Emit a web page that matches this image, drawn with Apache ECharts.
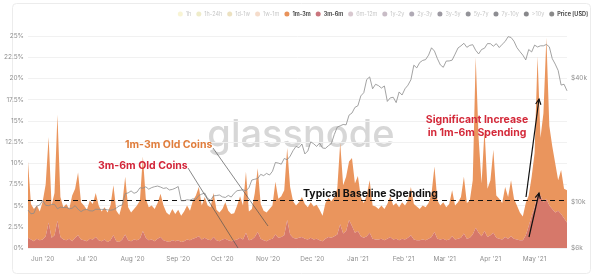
<!DOCTYPE html>
<html><head><meta charset="utf-8">
<script src="https://cdn.jsdelivr.net/npm/echarts@6/dist/echarts.min.js"></script>
<style>html,body{margin:0;padding:0;background:#fff}#c{width:600px;height:277px}</style>
</head><body><div id="c"></div>
<script>
// ---- data (every 2 days from 2020-05-22) ----
const startYMD = [2020, 4, 22];
const stepDays = 2;
const band1m3m = [
9.0,4.2,3.8,3.9,3.4,4.5,6.1,10.1,3.8,5.0,12.5,4.7,3.8,4.3,3.5,5.4,5.8,7.4,4.4,4.1,
3.7,4.5,4.2,5.2,4.1,3.5,3.8,3.5,4.1,5.9,3.6,3.2,4.2,6.8,3.9,3.4,3.6,4.1,4.5,8.8,
4.6,3.9,4.0,3.8,4.2,5.1,4.1,3.4,3.2,3.7,3.2,3.6,3.1,3.5,4.0,3.5,4.5,5.0,5.8,4.0,
4.8,4.0,3.9,5.2,3.6,3.4,3.6,4.3,3.5,3.2,3.2,4.0,4.9,4.0,7.2,3.4,3.6,5.2,7.5,4.1,
3.5,3.4,3.6,3.9,6.2,4.6,4.8,5.3,8.5,5.6,4.3,3.9,4.2,4.7,4.1,3.8,4.2,3.9,4.0,3.6,
3.0,4.2,4.6,4.3,4.6,5.4,9.6,5.7,6.4,6.9,8.0,5.8,6.5,4.6,4.1,4.8,6.2,3.9,3.9,3.6,
3.9,3.7,4.1,4.8,4.0,4.2,3.9,4.3,4.0,4.4,5.7,4.2,4.0,3.7,4.0,3.9,4.2,5.1,7.7,4.5,
4.0,4.3,3.9,4.2,5.4,4.0,4.3,4.8,6.7,4.2,4.4,6.4,20.1,11.1,6.2,12.0,5.7,6.5,9.8,5.0,
4.7,4.3,5.9,4.9,6.6,4.7,4.0,3.3,2.8,3.8,3.6,4.6,6.4,16.1,6.8,10.5,19.0,9.4,7.4,5.8,
3.6,5.2,3.5,3.8
];
const band3m6m = [
1.2,1.0,0.8,1.1,0.9,1.0,1.4,3.0,1.2,1.5,3.2,1.3,1.0,0.9,1.1,0.8,1.2,1.5,1.0,0.9,
0.8,1.1,1.0,1.3,0.9,0.8,1.0,0.7,0.9,1.5,0.8,0.7,1.0,1.6,0.9,0.8,1.0,0.9,1.1,2.0,
1.2,0.9,1.0,0.8,1.1,1.3,0.9,0.8,0.7,0.9,0.8,0.9,0.7,0.8,1.0,0.9,1.1,1.2,1.4,1.0,
1.2,1.0,0.9,1.3,0.9,0.8,1.0,1.1,0.9,0.8,0.9,1.0,1.2,1.0,1.8,0.9,1.0,1.3,1.9,1.1,
0.9,0.8,1.0,1.1,1.6,1.2,1.3,1.5,3.3,1.6,1.2,1.1,1.2,1.3,1.1,1.0,1.2,1.0,1.1,0.9,
0.8,1.1,1.3,1.2,1.4,1.6,2.8,1.7,2.0,3.3,2.6,1.8,2.0,1.4,1.2,1.4,1.8,1.1,1.0,1.0,
1.1,0.9,1.1,1.3,1.0,1.1,0.9,1.1,1.0,1.2,1.5,1.0,0.9,0.9,1.0,0.9,1.1,1.3,1.9,1.1,
1.0,1.1,0.9,1.0,1.4,1.0,1.1,1.2,1.7,1.1,1.2,1.6,2.4,1.8,1.4,2.0,1.3,1.5,1.8,1.2,
1.1,1.0,1.3,1.1,1.4,1.1,1.0,0.9,0.9,1.5,2.6,3.8,4.8,6.5,6.2,5.4,5.8,5.0,4.6,4.2,
4.4,4.0,3.5,3.0
];
const priceUSD = [
9170,8790,8840,9580,9700,10200,9660,9630,9750,9770,9300,9470,9430,9450,9300,9360,9630,9250,9010,9190,
9230,9090,9070,9250,9240,9230,9240,9190,9150,9200,9380,9600,9700,11000,11100,11350,11050,11200,11750,11700,
11880,11570,11780,11900,11980,11850,11670,11750,11470,11540,11700,11920,10170,10170,10280,10240,10390,10330,10780,10950,
11080,10420,10240,10740,10780,10840,10620,10550,10790,10600,11060,11380,11430,11500,11360,11750,12820,12930,13030,13650,
13460,13800,13550,14130,15590,15480,15300,16300,16070,16720,17800,18660,18400,19160,17150,17730,19630,19200,18650,19360,
18320,18250,18800,19270,21310,23140,23470,23830,23730,26440,27080,28840,29370,32780,33990,39370,40520,35510,37330,36770,
35790,36630,30830,32080,32290,30430,34260,33110,35510,36950,39270,46200,44840,47600,48720,49170,51680,56100,54090,49710,
46340,45140,48380,48440,48880,52250,56000,57330,59000,56400,57640,58080,54530,52390,55050,55840,58800,58730,57100,58760,
56250,58340,60200,63500,62980,60360,56190,53800,51700,49000,55030,53560,57830,56620,57350,57360,58240,56700,49700,46760,
43540,37000,37340,34700
];
const tickDates = ['2020-06-01','2020-07-01','2020-08-01','2020-09-01','2020-10-01','2020-11-01','2020-12-01','2021-01-01','2021-02-01','2021-03-01','2021-04-01','2021-05-01'];
const tickLabels = ["Jun '20","Jul '20","Aug '20","Sep '20","Oct '20","Nov '20","Dec '20","Jan '21","Feb '21","Mar '21","Apr '21","May '21"];
const priceTicks = [6000, 10000, 40000];
const priceTickLabels = ['$6k', '$10k', '$40k'];
const baselinePct = 5.6;
const legendNames = ['1h','1h-24h','1d-1w','1w-1m','1m-3m','3m-6m','6m-12m','1y-2y','2y-3y','3y-5y','5y-7y','7y-10y','>10y','Price [USD]'];
const legendColors = ['#f3ebb0','#e2dc9c','#dcc98c','#ecc0a0','#e8925a','#c9747c','#b89aa8','#9a8598','#6f6478','#4a4654','#3a3a44','#2f2f38','#26262c','#8a8a8a'];
const legendActive = ['1m-3m','3m-6m','Price [USD]'];

// ---- build ----
const DAY = 86400000;
const t0 = Date.UTC(startYMD[0], startYMD[1], startYMD[2]);
const xs = band1m3m.map((_, i) => t0 + i * stepDays * DAY);
const pair = arr => arr.map((v, i) => [xs[i], v]);
const tickTs = tickDates.map(s => { const p = s.split('-'); return Date.UTC(+p[0], +p[1]-1, +p[2]); });

function arrow(x1, y1, x2, y2) {
  const a = Math.atan2(y2 - y1, x2 - x1), L = 6, w = 0.45;
  const p1 = [x2 - L * Math.cos(a - w), y2 - L * Math.sin(a - w)];
  const p2 = [x2 - L * Math.cos(a + w), y2 - L * Math.sin(a + w)];
  return [
    { type: 'line', z: 100, shape: { x1, y1, x2, y2 }, style: { stroke: '#111', lineWidth: 1.2 } },
    { type: 'polyline', z: 100, shape: { points: [p1, [x2, y2], p2] }, style: { stroke: '#111', lineWidth: 1.2, fill: null } }
  ];
}

const chart = echarts.init(document.getElementById('c'), null, { renderer: 'canvas' });
const series = [];
legendNames.forEach((n, k) => {
  if (n === '1m-3m' || n === '3m-6m' || n === 'Price [USD]') return;
  series.push({ name: n, type: 'line', data: [], color: legendColors[k], showSymbol: false });
});
series.push({
  name: '3m-6m', type: 'line', stack: 'bands', data: pair(band3m6m), showSymbol: false, z: 3,
  color: '#d6786a', lineStyle: { width: 0 }, areaStyle: { color: '#d6786a', opacity: 1 }
});
series.push({
  name: '1m-3m', type: 'line', stack: 'bands', data: pair(band1m3m), showSymbol: false, z: 2,
  color: '#ea955d', lineStyle: { width: 0 }, areaStyle: { color: '#ea955d', opacity: 1 }
});
series.push({
  name: 'baseline', type: 'line', data: [], z: 4,
  markLine: { silent: true, symbol: ['none', 'none'], label: { show: false },
    lineStyle: { color: '#111', width: 1.1, type: [5, 4] }, data: [{ yAxis: baselinePct }] }
});
series.push({
  name: 'Price [USD]', type: 'line', yAxisIndex: 1, data: pair(priceUSD), showSymbol: false, z: 5,
  color: '#8a8a8a', lineStyle: { width: 0.8, color: '#8c8c8c' }
});

const option = {
  animation: false,
  useUTC: true,
  backgroundColor: '#fff',
  textStyle: { fontFamily: 'Inter, Roboto, sans-serif' },
  legend: {
    top: 11, right: 12, icon: 'circle', itemWidth: 5, itemHeight: 5, itemGap: 5, padding: 0,
    selectedMode: false,
    textStyle: { fontSize: 5.5, color: '#333', padding: [0, 0, 0, -2] },
    data: legendNames.map((n, k) => ({
      name: n,
      itemStyle: { color: legendColors[k], opacity: legendActive.includes(n) ? 1 : 0.55 },
      textStyle: { color: legendActive.includes(n) ? '#333' : '#c8c8c8', fontWeight: legendActive.includes(n) ? 600 : 400 }
    }))
  },
  grid: { left: 28, right: 33, top: 36, bottom: 29 },
  xAxis: {
    type: 'time', min: xs[0], max: xs[xs.length - 1],
    minInterval: 28 * DAY, maxInterval: 31 * DAY,
    axisLine: { show: false }, axisTick: { show: false }, splitLine: { show: false },
    axisLabel: {
      margin: 8, fontSize: 6.5, color: '#8f8f8f', hideOverlap: false, showMinLabel: false, showMaxLabel: false,
      formatter: v => { const i = tickTs.indexOf(+v); return i >= 0 ? tickLabels[i] : ''; }
    }
  },
  yAxis: [{
    type: 'value', min: 0, max: 25, interval: 2.5, position: 'left',
    axisLine: { show: false }, axisTick: { show: false },
    splitLine: { lineStyle: { color: '#f1f1f1', width: 1 } },
    axisLabel: { fontSize: 6.5, color: '#8f8f8f', margin: 4, formatter: v => v + '%' }
  }, {
    type: 'log', min: 6000, max: 64000, position: 'right',
    axisLine: { show: false }, axisTick: { show: false }, splitLine: { show: false },
    axisLabel: {
      customValues: priceTicks, fontSize: 6.5, color: '#8f8f8f', margin: 4,
      formatter: v => { const i = priceTicks.indexOf(Math.round(v)); return i >= 0 ? priceTickLabels[i] : ''; }
    }
  }],
  graphic: [
    { type: 'rect', z: -10, silent: true, shape: { x: 12.5, y: 3.5, width: 578, height: 270, r: 4 }, style: { fill: null, stroke: '#ececec', lineWidth: 1 } },
    { type: 'text', z: 0, silent: true, x: 301, y: 136, style: { text: 'glassnode', fontSize: 38, fontWeight: 500, fontFamily: 'Inter, sans-serif', fill: '#d7d7d7', align: 'center', verticalAlign: 'middle' } },
    { type: 'line', z: 100, shape: { x1: 213, y1: 148, x2: 268, y2: 226 }, style: { stroke: '#555', lineWidth: 0.7 } },
    { type: 'line', z: 100, shape: { x1: 188, y1: 168, x2: 238, y2: 248 }, style: { stroke: '#555', lineWidth: 0.7 } },
    { type: 'text', z: 100, x: 125, y: 145, style: { text: '1m-3m Old Coins', fontSize: 10.5, fontWeight: 'bold', fontFamily: 'Inter, sans-serif', fill: '#e07d3c', verticalAlign: 'middle' } },
    { type: 'text', z: 100, x: 98, y: 166, style: { text: '3m-6m Old Coins', fontSize: 10.5, fontWeight: 'bold', fontFamily: 'Inter, sans-serif', fill: '#d3263a', verticalAlign: 'middle' } },
    { type: 'text', z: 100, x: 303, y: 194, style: { text: 'Typical Baseline Spending', fontSize: 10.5, fontWeight: 'bold', fontFamily: 'Inter, sans-serif', fill: '#111', verticalAlign: 'middle' } },
    { type: 'text', z: 100, x: 477, y: 126, style: { text: 'Significant Increase\nin 1m-6m Spending', fontSize: 10.5, lineHeight: 13, fontWeight: 'bold', fontFamily: 'Inter, sans-serif', fill: '#d42a3a', align: 'center', verticalAlign: 'middle' } },
    ...arrow(526, 197, 539, 99),
    ...arrow(529, 237, 539, 193)
  ],
  series
};
chart.setOption(option);
</script></body></html>
